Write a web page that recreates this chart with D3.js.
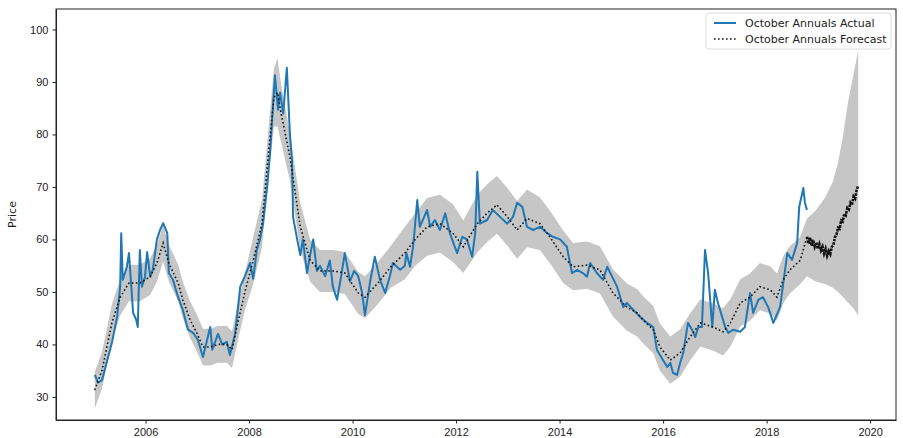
<!DOCTYPE html>
<meta charset="utf-8">
<style>

body { margin: 0; background: #fff; font-family: "DejaVu Sans", sans-serif; }

.axis text { font-size: 11px; fill: #222; }
.axis path, .axis line { stroke: #222; }

.band { fill: #c6c6c6; }
.actual { fill: none; stroke: #1f77b4; stroke-width: 2; stroke-linejoin: round; }
.forecast { fill: none; stroke: #111; stroke-width: 1.6; stroke-dasharray: 1.6,2.4; }
.future { fill: none; stroke: #111; stroke-width: 2.6; stroke-dasharray: 2.5,1; }

</style>

<svg width="903" height="438"></svg>
<script src="https://d3js.org/d3.v7.min.js"></script>
<script>

var actualDates = [2005.02,2005.08,2005.16,2005.26,2005.35,2005.45,2005.51,2005.53,2005.56,2005.64,
  2005.68,2005.72,2005.76,2005.82,2005.85,2005.89,2005.93,2005.99,2006.03,2006.09,
  2006.14,2006.22,2006.28,2006.34,2006.42,2006.45,2006.53,2006.63,2006.72,2006.82,
  2006.92,2007.01,2007.11,2007.19,2007.25,2007.29,2007.40,2007.48,2007.57,2007.63,
  2007.73,2007.83,2007.92,2008.02,2008.08,2008.15,2008.21,2008.27,2008.35,2008.41,
  2008.46,2008.50,2008.56,2008.60,2008.66,2008.73,2008.79,2008.83,2008.85,2008.93,
  2008.99,2009.04,2009.12,2009.18,2009.24,2009.31,2009.37,2009.47,2009.56,2009.62,
  2009.70,2009.78,2009.85,2009.95,2010.03,2010.11,2010.18,2010.24,2010.34,2010.43,
  2010.53,2010.63,2010.72,2010.78,2010.92,2011.01,2011.04,2011.11,2011.17,2011.25,
  2011.30,2011.44,2011.50,2011.59,2011.69,2011.79,2011.88,2012.02,2012.12,2012.21,
  2012.31,2012.37,2012.41,2012.46,2012.60,2012.71,2012.85,2012.99,2013.10,2013.18,
  2013.28,2013.37,2013.49,2013.62,2013.76,2013.87,2014.01,2014.14,2014.24,2014.34,
  2014.45,2014.53,2014.59,2014.72,2014.84,2014.92,2015.11,2015.23,2015.30,2015.42,
  2015.56,2015.69,2015.81,2015.88,2016.00,2016.08,2016.14,2016.19,2016.27,2016.33,
  2016.39,2016.48,2016.56,2016.62,2016.68,2016.75,2016.81,2016.87,2016.95,2017.00,
  2017.06,2017.20,2017.26,2017.35,2017.49,2017.58,2017.68,2017.74,2017.84,2017.93,
  2018.03,2018.13,2018.26,2018.40,2018.49,2018.59,2018.63,2018.71,2018.74,2018.78];

var actualValues = [34.2,32.7,33.2,37.0,40.3,45.2,51.0,61.2,52.3,54.8,
  57.4,51.7,46.0,44.7,43.3,58.0,51.0,52.9,57.6,52.9,
  54.2,60.0,61.8,63.1,61.2,53.6,52.3,49.0,46.6,42.8,
  42.2,40.9,37.6,40.9,43.3,39.0,42.0,40.0,40.5,38.0,
  42.0,51.0,53.0,55.5,52.5,58.0,60.0,63.0,70.0,77.0,
  85.0,91.3,84.7,88.0,84.0,92.7,80.0,75.0,64.3,60.0,
  57.0,60.0,53.6,57.0,60.0,54.0,55.0,53.0,56.0,51.0,
  48.5,53.0,57.4,52.0,54.0,53.0,50.0,45.6,52.0,56.7,
  52.3,49.8,53.0,55.5,54.2,55.0,57.4,54.8,58.6,67.5,
  62.4,65.6,62.4,63.7,61.8,65.0,61.2,57.4,60.5,60.0,
  56.7,61.2,72.9,63.0,63.7,65.6,64.3,63.0,64.3,67.0,
  66.2,62.4,61.8,62.4,61.2,60.5,60.0,58.6,53.6,54.2,
  53.6,52.9,55.5,53.6,52.3,54.8,51.0,47.1,47.9,46.6,
  45.2,44.1,43.3,39.0,37.0,35.7,36.5,34.6,34.2,36.5,
  38.4,44.1,42.8,41.4,43.3,43.3,58.0,53.6,43.3,50.4,
  47.9,43.3,42.2,42.8,42.4,43.3,49.8,46.0,48.5,49.0,
  47.1,44.1,47.1,57.4,56.1,59.3,66.2,69.8,67.0,65.6];

// fitted forecast over the history
var forecastDates = [2005.02,2005.16,2005.35,2005.51,2005.68,2005.89,2006.09,2006.22,2006.34,2006.45,
  2006.63,2006.72,2006.86,2006.99,2007.11,2007.25,2007.40,2007.57,2007.67,2007.78,
  2007.92,2008.08,2008.25,2008.35,2008.48,2008.55,2008.62,2008.79,2008.99,2009.18,
  2009.37,2009.62,2009.85,2010.11,2010.24,2010.49,2010.74,2011.01,2011.21,2011.44,
  2011.69,2011.94,2012.14,2012.41,2012.60,2012.79,2012.99,2013.18,2013.37,2013.62,
  2013.81,2014.07,2014.26,2014.53,2014.78,2015.03,2015.30,2015.50,2015.61,2015.81,
  2015.94,2016.14,2016.33,2016.52,2016.72,2016.97,2017.16,2017.30,2017.49,2017.68,
  2017.87,2018.07,2018.20,2018.32,2018.45,2018.65,2018.78];

var forecastValues = [31.3,35.1,44.1,49.0,51.7,51.7,52.9,55.5,59.3,55.5,
  51.7,48.5,44.7,42.2,39.5,39.5,40.0,40.0,39.0,44.0,
  50.0,56.0,63.0,73.8,87.0,88.0,84.0,75.7,62.4,56.0,
  54.0,54.0,53.6,49.8,49.0,51.7,54.8,57.4,60.0,62.4,
  63.0,61.2,58.6,63.0,65.0,66.6,64.3,61.8,64.0,63.0,
  60.5,56.7,54.8,55.1,54.2,49.8,47.1,46.0,44.7,42.8,
  39.5,37.0,38.4,41.4,44.1,43.3,42.4,44.1,47.9,49.0,
  51.0,50.4,49.0,52.3,54.2,56.0,60.5];

// dense forecast after the last actual
var futureDates = [2018.78,2018.81,2018.84,2018.87,2018.90,2018.93,2018.96,2018.99,2019.02,2019.05,
  2019.08,2019.11,2019.14,2019.17,2019.20,2019.23,2019.26,2019.29,2019.32,2019.35,
  2019.38,2019.41,2019.44,2019.47,2019.50,2019.53,2019.56,2019.59,2019.62,2019.65,
  2019.68,2019.71,2019.74,2019.77];

var futureValues = [60.5,59.2,60.3,58.8,59.9,58.6,59.4,58.2,59.1,57.9,
  58.6,57.3,58.2,56.9,57.8,57.2,58.6,58.9,60.4,60.9,
  62.2,62.0,63.6,63.4,64.9,64.6,66.0,65.7,67.0,66.6,
  68.2,67.8,69.4,70.2];

// uncertainty band: half width over the fitted part, explicit bounds over the future part
var fitHalfWidth = [3.5,3.5,3.5,3.5,3.5,3.5,3.5,3.5,3.5,3.5,
  3.5,3.5,3.5,3.5,3.5,3.5,3.5,3.5,3.5,3.5,
  3.5,4.5,4.5,4.5,5.5,6.5,5.5,4.5,4.5,4.0,
  4.0,4.0,4.0,4.0,4.0,4.0,4.0,5.0,5.0,5.5,
  5.5,5.5,5.0,5.5,5.5,5.5,5.5,5.5,5.5,5.0,
  5.0,5.0,4.5,4.5,4.5,4.5,4.5,4.5,4.5,4.5,
  4.5,4.5,4.5,4.5,4.5,4.5,4.5,4.5,4.5,4.5,
  4.5,4.5,4.5,4.5,4.5,4.5];

var bandDates = [2018.78,2018.95,2019.13,2019.28,2019.38,2019.48,2019.57,2019.67,2019.77];
var bandLower = [53.0,52.0,51.5,50.8,50.0,49.0,48.0,47.0,45.5];
var bandUpper = [64.0,65.5,68.0,71.0,74.6,80.0,86.0,91.0,96.0];

var yTicks = [30, 40, 50, 60, 70, 80, 90, 100];
var xTicks = [2006, 2008, 2010, 2012, 2014, 2016, 2018, 2020];
var legendLabels = ["October Annuals Actual", "October Annuals Forecast"];

var svg = d3.select("svg"),
    margin = {top: 9, right: 7, bottom: 18, left: 56},
    width = +svg.attr("width") - margin.left - margin.right,
    height = +svg.attr("height") - margin.top - margin.bottom;

var g = svg.append("g").attr("transform", "translate(" + margin.left + "," + margin.top + ")");

var x = d3.scaleLinear().domain([2004.27, 2020.5]).range([0, width]);
var y = d3.scaleLinear().domain([25.6, 103.9]).range([height, 0]);

function pairs(dates, values) {
  return dates.map(function(d, i) { return {date: d, value: values[i]}; });
}

var band = fitHalfWidth.map(function(w, i) {
  return {date: forecastDates[i], lo: forecastValues[i] - w, hi: forecastValues[i] + w};
}).concat(bandDates.map(function(d, i) {
  return {date: d, lo: bandLower[i], hi: bandUpper[i]};
}));

g.append("path")
    .datum(band)
    .attr("class", "band")
    .attr("d", d3.area()
        .x(function(d) { return x(d.date); })
        .y0(function(d) { return y(d.lo); })
        .y1(function(d) { return y(d.hi); }));

var line = d3.line()
    .x(function(d) { return x(d.date); })
    .y(function(d) { return y(d.value); });

g.append("path").datum(pairs(actualDates, actualValues)).attr("class", "actual").attr("d", line);
g.append("path").datum(pairs(forecastDates, forecastValues)).attr("class", "forecast").attr("d", line);
g.append("path").datum(pairs(futureDates, futureValues)).attr("class", "future").attr("d", line);

g.append("g")
    .attr("class", "axis")
    .attr("transform", "translate(0," + height + ")")
    .call(d3.axisBottom(x).tickValues(xTicks).tickFormat(d3.format("d")).tickSize(3.5).tickSizeOuter(0))
    .selectAll("text").attr("dy", "0.9em");

g.append("g")
    .attr("class", "axis")
    .call(d3.axisLeft(y).tickValues(yTicks).tickSize(3.5).tickSizeOuter(0))
    .selectAll("text").attr("dx", "-0.1em");

g.append("rect")
    .attr("width", width)
    .attr("height", height)
    .attr("fill", "none")
    .attr("stroke", "#222")
    .attr("stroke-width", 1);

svg.append("text")
    .attr("transform", "translate(16," + (margin.top + height / 2) + ") rotate(-90)")
    .attr("text-anchor", "middle")
    .style("font-size", "11px")
    .style("fill", "#222")
    .text("Price");

// legend
var legend = g.append("g").attr("transform", "translate(" + (width - 190) + ",4)");

legend.append("rect")
    .attr("width", 185)
    .attr("height", 36)
    .attr("rx", 3)
    .attr("fill", "#fff")
    .attr("fill-opacity", 0.8)
    .attr("stroke", "#ddd");

var item = legend.selectAll(".item")
    .data(legendLabels)
    .enter().append("g")
    .attr("class", "item")
    .attr("transform", function(d, i) { return "translate(8," + (10 + i * 16) + ")"; });

item.append("line")
    .attr("x1", 0).attr("x2", 22)
    .attr("class", function(d, i) { return i === 0 ? "actual" : "forecast"; });

item.append("text")
    .attr("x", 31)
    .attr("dy", "0.35em")
    .style("font-size", "11px")
    .style("fill", "#222")
    .text(function(d) { return d; });

</script>
